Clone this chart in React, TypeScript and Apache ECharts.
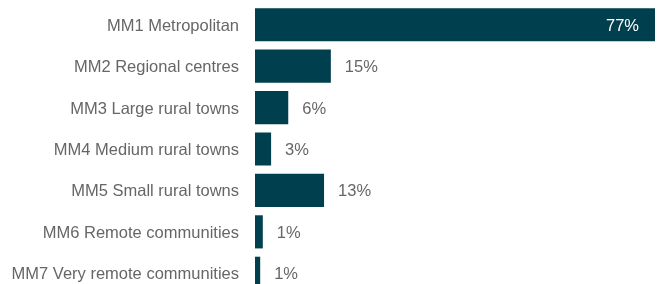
import React, { useEffect, useRef } from "react";
import * as echarts from "echarts";

const categories = [
  "MM1 Metropolitan",
  "MM2 Regional centres",
  "MM3 Large rural towns",
  "MM4 Medium rural towns",
  "MM5 Small rural towns",
  "MM6 Remote communities",
  "MM7 Very remote communities",
];
const values = [77, 14.6, 6.4, 3.1, 13.3, 1.5, 1.0];
const valueLabels = ["77%", "15%", "6%", "3%", "13%", "1%", "1%"];

const BAR = "#003f4e";
const TEXT = "#666666";
const FONT = "Liberation Sans, Arial, sans-serif";

export default function App() {
  const ref = useRef<HTMLDivElement>(null);
  useEffect(() => {
    if (!ref.current) return;
    const chart = echarts.init(ref.current, undefined, { renderer: "svg" });
    chart.setOption({
      animation: false,
      grid: { left: 255, right: 5, top: 4, height: 290, outerBoundsMode: "none", containLabel: false },
      xAxis: { type: "value", min: 0, max: 77, show: false },
      yAxis: {
        type: "category",
        data: categories,
        inverse: true,
        axisLine: { show: false },
        axisTick: { show: false },
        axisLabel: {
          color: TEXT,
          fontSize: 16.5,
          fontFamily: FONT,
          margin: 16,
        },
      },
      series: [
        {
          type: "bar",
          barCategoryGap: "20%",
          data: values.map((v, i) => ({
            value: v,
            label:
              i === 0
                ? { position: "insideRight", color: "#ffffff", distance: 16 }
                : { position: "right", color: TEXT, distance: 14 },
          })),
          itemStyle: { color: BAR },
          label: {
            show: true,
            fontSize: 16.5,
            fontFamily: FONT,
            formatter: (p: any) => valueLabels[p.dataIndex],
          },
        },
      ],
    });
    return () => chart.dispose();
  }, []);
  return <div ref={ref} style={{ width: 660, height: 284, position: "fixed", left: 0, top: 0 }} />;
}
